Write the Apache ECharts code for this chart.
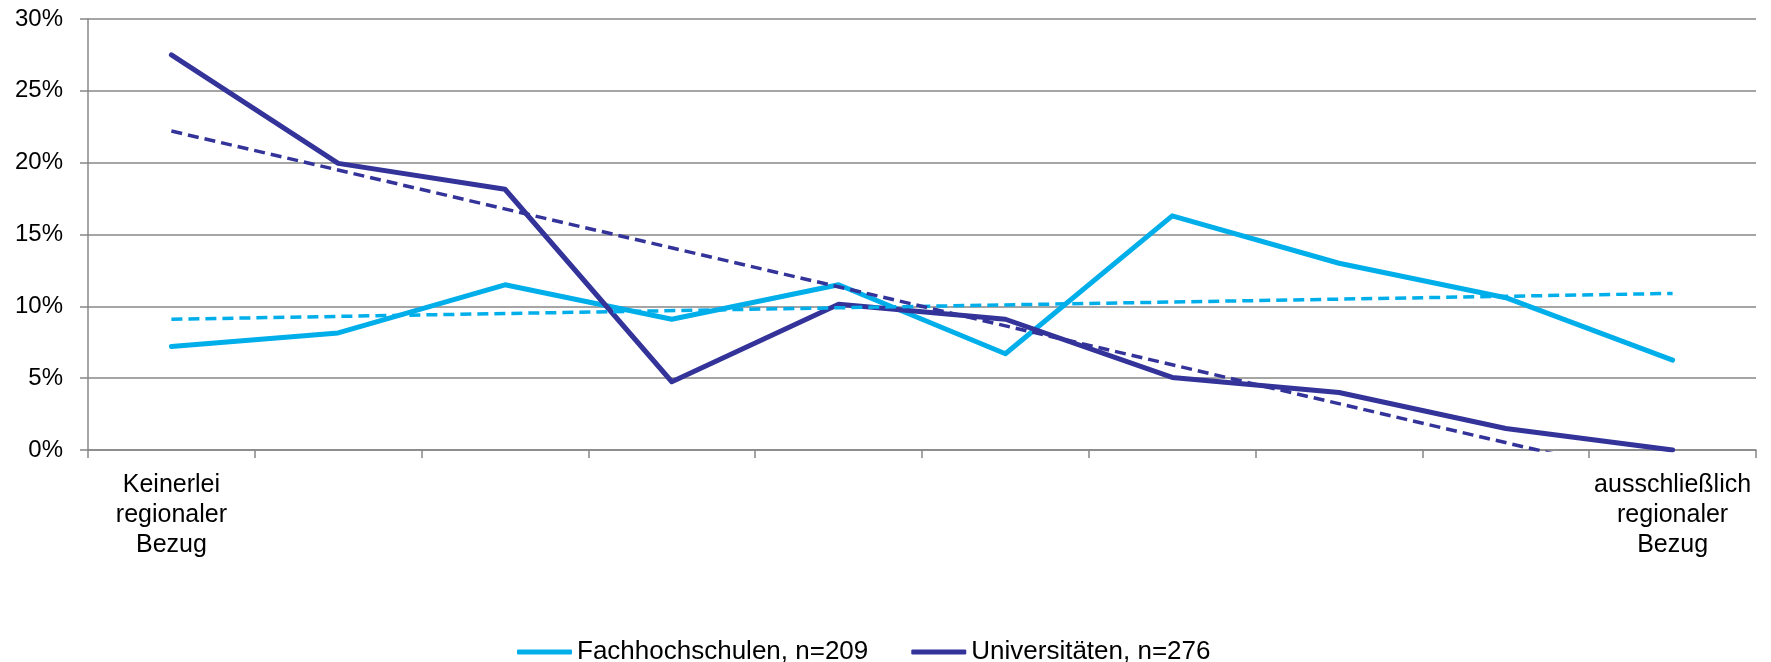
<!DOCTYPE html>
<html>
<head>
<meta charset="utf-8">
<script src="https://cdn.jsdelivr.net/npm/echarts@6/dist/echarts.min.js"></script>
<style>
  html, body { margin: 0; padding: 0; background: #ffffff; }
  #chart { width: 1771px; height: 662px; }
</style>
</head>
<body>
<div id="chart"></div>
<script>
// ---- data ----
const categories = ['1', '2', '3', '4', '5', '6', '7', '8', '9', '10'];
const categoryLabels = ['Keinerlei\nregionaler\nBezug', '', '', '', '', '', '', '', '', 'ausschließlich\nregionaler\nBezug'];
const seriesNames = ['Fachhochschulen, n=209', 'Universitäten, n=276'];
const fhValues = [7.2, 8.15, 11.5, 9.1, 11.5, 6.7, 16.3, 13.0, 10.6, 6.25];
const uniValues = [27.5, 19.95, 18.15, 4.75, 10.15, 9.1, 5.05, 4.0, 1.5, 0.0];
// linear trend lines (start / end values)
const fhTrendEnds = [9.1, 10.9];
const uniTrendEnds = [22.2, -2.2];
const yTicks = { min: 0, max: 30, interval: 5 };

const colorFH = '#00AEEA';
const colorUni = '#333399';
const fontFamily = '"Liberation Sans", Arial, sans-serif';

function trendData(ends) {
  const arr = categories.map(() => null);
  arr[0] = ends[0];
  arr[arr.length - 1] = ends[1];
  return arr;
}

const chart = echarts.init(document.getElementById('chart'), null, { renderer: 'canvas' });
chart.setOption({
  animation: false,
  backgroundColor: '#ffffff',
  textStyle: { fontFamily: fontFamily },
  grid: { left: 88, right: 15, top: 19, bottom: 212, containLabel: false },
  legend: {
    data: seriesNames.map(n => ({ name: n, icon: 'roundRect' })),
    left: 512,
    top: 634,
    itemWidth: 55,
    itemHeight: 5,
    itemGap: 43,
    textStyle: { fontSize: 26, color: '#000000', fontFamily: fontFamily }
  },
  xAxis: {
    type: 'category',
    data: categories,
    boundaryGap: true,
    axisLine: { show: true, lineStyle: { color: '#878787', width: 1.5 } },
    axisTick: { show: true, length: 8, lineStyle: { color: '#878787', width: 1.5 } },
    axisLabel: {
      interval: 0,
      margin: 20,
      fontSize: 25,
      lineHeight: 30,
      color: '#000000',
      fontFamily: fontFamily,
      formatter: function (v, i) { return categoryLabels[i]; }
    },
    splitLine: { show: false }
  },
  yAxis: {
    type: 'value',
    min: yTicks.min,
    max: yTicks.max,
    interval: yTicks.interval,
    axisLine: { show: true, lineStyle: { color: '#878787', width: 1.5 } },
    axisTick: { show: true, length: 8, inside: false, lineStyle: { color: '#878787', width: 1.5 } },
    axisLabel: {
      margin: 25,
      fontSize: 24,
      color: '#000000',
      fontFamily: fontFamily,
      formatter: '{value}%'
    },
    splitLine: { show: true, lineStyle: { color: '#878787', width: 1.5 } }
  },
  series: [
    {
      name: seriesNames[0],
      type: 'line',
      data: fhValues,
      symbol: 'none',
      color: colorFH,
      lineStyle: { color: colorFH, width: 5, cap: 'round', join: 'round' },
      z: 3
    },
    {
      name: seriesNames[1],
      type: 'line',
      data: uniValues,
      symbol: 'none',
      color: colorUni,
      lineStyle: { color: colorUni, width: 5, cap: 'round', join: 'round' },
      z: 3
    },
    {
      name: 'Trend FH',
      type: 'line',
      data: trendData(fhTrendEnds),
      connectNulls: true,
      symbol: 'none',
      silent: true,
      clip: true,
      lineStyle: { color: colorFH, width: 3.5, type: [11, 6] },
      z: 4
    },
    {
      name: 'Trend Uni',
      type: 'line',
      data: trendData(uniTrendEnds),
      connectNulls: true,
      symbol: 'none',
      silent: true,
      clip: true,
      lineStyle: { color: colorUni, width: 3.5, type: [11, 6] },
      z: 4
    }
  ]
});
</script>
</body>
</html>
